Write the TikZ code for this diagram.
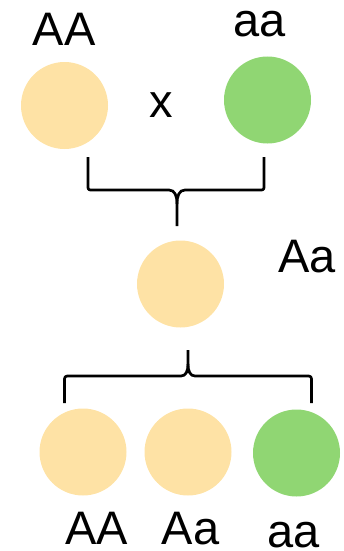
\documentclass[tikz,border=0pt]{standalone}
\usepackage{fontspec}
\setmainfont{Liberation Sans}
\definecolor{yel}{HTML}{FEE2A5}
\definecolor{grn}{HTML}{90D673}
\begin{document}
\begin{tikzpicture}[x=1pt,y=-1pt,
  ball/.style={circle,minimum size=87pt,inner sep=0pt,draw=none},
  yball/.style={ball,fill=yel},
  gball/.style={ball,fill=grn},
  lbl/.style={anchor=base,inner sep=0pt,text depth=0pt,font=\fontsize{47}{50}\selectfont},
  brace/.style={draw=black,line width=2.7pt,line join=round}]
\useasboundingbox (0,0) rectangle (344,551);
% circles
\node[yball] (p1) at (64.5,105.5) {};
\node[gball] (p2) at (267.5,100) {};
\node[yball] (f1) at (180.5,284) {};
\node[yball] (c1) at (83,452) {};
\node[yball] (c2) at (188,452) {};
\node[gball] (c3) at (296.5,453) {};
% labels
\node[lbl] (tAA) at (64,46) {AA};
\node[lbl] (taa) at (260,37) {aa};
\node[lbl] (tx) at (161,117) {x};
\node[lbl] (tAa) at (307,272) {Aa};
\node[lbl] (bAA) at (96.5,544) {AA};
\node[lbl] (bAa) at (190.5,544) {Aa};
\node[lbl] (baa) at (294,547) {aa};
% top brace
\coordinate (tl) at (88,157);
\coordinate (tr) at (264,157);
\coordinate (ttip) at (177,226);
\draw[brace] (tl) -- (88,185) .. controls (88,190) .. (93,190) -- (169,190)
  .. controls (175,190) and (177,196) .. (177,204) -- (ttip);
\draw[brace] (tr) -- (264,185) .. controls (264,190) .. (259,190) -- (185,190)
  .. controls (179,190) and (177,196) .. (177,204);
% bottom brace
\coordinate (bl) at (64.5,403);
\coordinate (br) at (311.5,403);
\coordinate (btip) at (188,350);
\draw[brace] (bl) -- (64.5,382) .. controls (64.5,376) .. (70.5,376) -- (181,376)
  .. controls (186,376) and (188,371) .. (188,364) -- (btip);
\draw[brace] (br) -- (311.5,382) .. controls (311.5,376) .. (305.5,376) -- (195,376)
  .. controls (190,376) and (188,371) .. (188,364);
\end{tikzpicture}
\end{document}
